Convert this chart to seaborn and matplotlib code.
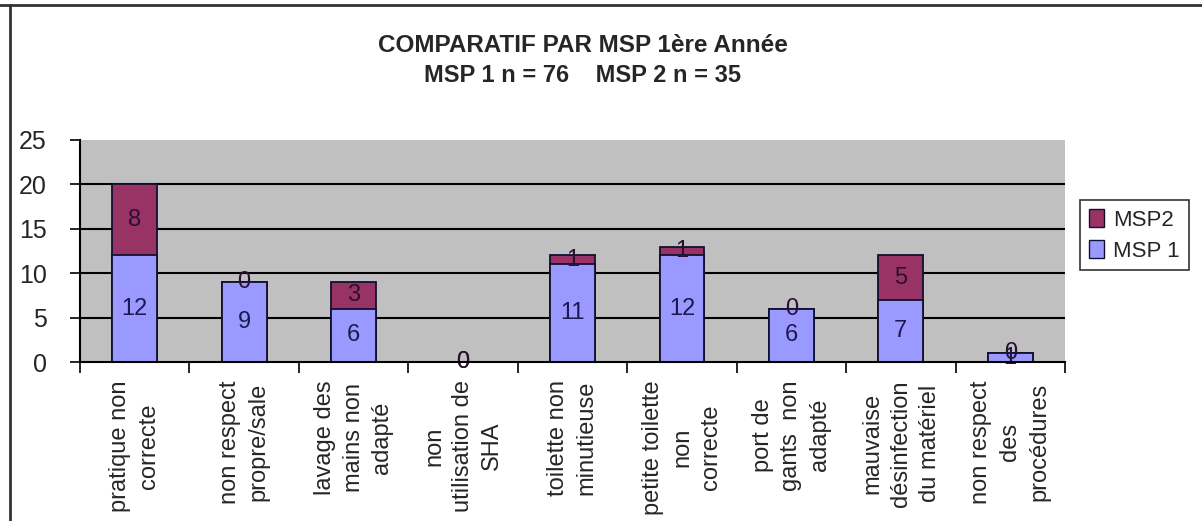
import pandas as pd
import numpy as np
import seaborn as sns
import matplotlib.pyplot as plt
from matplotlib.lines import Line2D
from matplotlib.patches import Patch

categories = ["pratique non\ncorrecte", "non respect\npropre/sale", "lavage des\nmains non\nadapté",
              "non\nutilisation de\nSHA", "toilette non\nminutieuse", "petite toilette\nnon\ncorrecte",
              "port de\ngants  non\nadapté", "mauvaise\ndésinfection\ndu matériel", "non respect\ndes\nprocédures"]
msp1 = [12, 9, 6, 0, 11, 12, 6, 7, 1]
msp2 = [8, 0, 3, 0, 1, 1, 0, 5, 0]

df = pd.DataFrame({"cat": categories, "msp1": msp1, "msp2": msp2})
df["total"] = df["msp1"] + df["msp2"]

sns.set_style("white")
plt.rcParams["font.family"] = ["Liberation Sans", "DejaVu Sans"]

c1 = "#9999FF"
c2 = "#993366"

fig = plt.figure(figsize=(12.02, 5.21), dpi=100)
ax = fig.add_axes([80/1202, 1-362/521, (1065-80)/1202, (362-140)/521])
ax.set_facecolor("#C0C0C0")

sns.barplot(data=df, x="cat", y="total", color=c2, saturation=1, width=0.41,
            edgecolor="#101030", linewidth=1.3, ax=ax, zorder=3)
sns.barplot(data=df, x="cat", y="msp1", color=c1, saturation=1, width=0.41,
            edgecolor="#101030", linewidth=1.3, ax=ax, zorder=4)

for i, (a, b) in enumerate(zip(msp1, msp2)):
    ax.text(i, a/2, str(a), ha="center", va="center", fontsize=17, color="#1a1a50", zorder=6)
    ax.text(i, a + b/2, str(b), ha="center", va="center", fontsize=17, color="#2a1030", zorder=6)

ax.set_ylim(0, 25)
ax.set_xlim(-0.5, len(categories) - 0.5)
ax.set_yticks([0, 5, 10, 15, 20, 25])
for y in [5, 10, 15, 20]:
    ax.axhline(y, color="black", lw=1.5, zorder=1)

ax.set_xticks(np.arange(len(categories) + 1) - 0.5, minor=False)
ax.set_xticklabels([])
ax.set_xticks(np.arange(len(categories)), minor=True)
ax.set_xticklabels(categories, minor=True, rotation=90, fontsize=17, va="top", ha="center",
                   multialignment="center", linespacing=1.4)
ax.tick_params(axis="x", which="major", direction="out", length=8, width=1.2, color="black", bottom=True)
ax.tick_params(axis="x", which="minor", length=0, pad=13)
ax.tick_params(axis="y", direction="out", length=7, width=1.2, color="black", left=True, labelsize=18, pad=17)
ax.set_xlabel("")
ax.set_ylabel("")

for s in ["top", "right"]:
    ax.spines[s].set_visible(False)
for s in ["left", "bottom"]:
    ax.spines[s].set_color("black")
    ax.spines[s].set_linewidth(1.5)
    ax.spines[s].set_zorder(7)

fig.text(583/1202, 1-45/521, "COMPARATIF PAR MSP 1ère Année", ha="center", va="center",
         fontsize=17.5, fontweight="bold")
fig.text(583/1202, 1-76/521, "MSP 1 n = 76    MSP 2 n = 35", ha="center", va="center",
         fontsize=17, fontweight="bold")

handles = [Patch(facecolor=c2, edgecolor="#101030", label="MSP2"),
           Patch(facecolor=c1, edgecolor="#101030", label="MSP 1")]
leg = fig.legend(handles=handles, loc="upper left", bbox_to_anchor=(1080/1202, 1-200/521),
                 frameon=True, fancybox=False, edgecolor="black", fontsize=16,
                 handlelength=0.7, handleheight=0.9, handletextpad=0.4, borderpad=0.4, labelspacing=0.4,
                 borderaxespad=0)
leg.get_frame().set_linewidth(1.2)

fig.add_artist(Line2D([0, 1], [1-5/521, 1-5/521], color="#333333", lw=2, transform=fig.transFigure))
fig.add_artist(Line2D([10/1202, 10/1202], [0, 1-5/521], color="#333333", lw=2, transform=fig.transFigure))

fig.savefig("out.png", dpi=100)
